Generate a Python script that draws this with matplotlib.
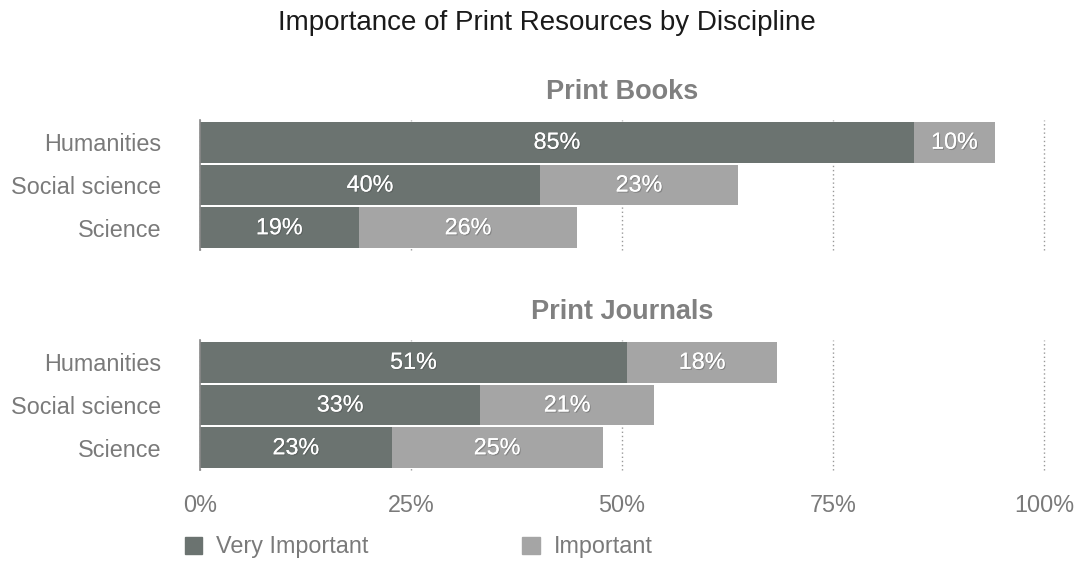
import matplotlib.pyplot as plt
import matplotlib.patheffects as pe
from matplotlib.patches import Patch

plt.rcParams['font.family'] = ['Liberation Sans', 'DejaVu Sans']

# Data
disciplines = ["Humanities", "Social science", "Science"]
books_very = [84.6, 40.3, 18.8]
books_imp = [9.6, 23.4, 25.9]
journals_very = [50.6, 33.2, 22.7]
journals_imp = [17.8, 20.6, 25.0]
panel_titles = ["Print Books", "Print Journals"]
xticks = [0, 25, 50, 75, 100]
xtick_labels = ["0%", "25%", "50%", "75%", "100%"]

dark = "#6b7370"
light = "#a5a5a5"
text_gray = "#7a7a7a"
fs = 16.8

fig = plt.figure(figsize=(10.77, 5.61), dpi=100)
ax_top = fig.add_axes([0.1857, 0.5544, 0.7837, 0.2317])
ax_bot = fig.add_axes([0.1857, 0.1622, 0.7837, 0.2317])

shadow = [pe.withSimplePatchShadow(offset=(0.8, -0.8), shadow_rgbFace="#444444", alpha=0.35), pe.Normal()]


def draw_panel(ax, very, imp, title, show_x):
    y = range(len(disciplines))
    ax.barh(y, very, height=0.95, color=dark, zorder=2)
    ax.barh(y, imp, left=very, height=0.95, color=light, zorder=2)
    for i in y:
        ax.text(very[i] / 2, i, f"{very[i]:.0f}%", ha="center", va="center",
                color="white", fontsize=fs, zorder=3, path_effects=shadow)
        ax.text(very[i] + imp[i] / 2, i, f"{imp[i]:.0f}%", ha="center", va="center",
                color="white", fontsize=fs, zorder=3, path_effects=shadow)
    ax.set_xlim(0, 100)
    ax.set_ylim(2.52, -0.52)
    ax.set_yticks(list(y))
    ax.set_yticklabels(disciplines, fontsize=fs, color=text_gray)
    ax.set_xticks(xticks)
    if show_x:
        ax.set_xticklabels(xtick_labels, fontsize=fs, color=text_gray)
    else:
        ax.set_xticklabels([])
    ax.tick_params(axis="y", length=0, pad=28)
    ax.tick_params(axis="x", length=0, pad=17)
    ax.grid(axis="x", linestyle=(0, (1, 2)), color="#999999", linewidth=1, zorder=0)
    for gl in ax.get_xgridlines():
        gl.set_clip_on(False)
    ax.set_axisbelow(True)
    for s in ["top", "right", "bottom"]:
        ax.spines[s].set_visible(False)
    ax.spines["left"].set_color("#888888")
    ax.spines["left"].set_linewidth(1.2)
    ax.set_title(title, fontsize=19.5, fontweight="bold", color="#808080", pad=15)


draw_panel(ax_top, books_very, books_imp, panel_titles[0], False)
draw_panel(ax_bot, journals_very, journals_imp, panel_titles[1], True)

fig.suptitle("Importance of Print Resources by Discipline", fontsize=20, color="#1a1a1a",
             x=0.508, y=0.959, va="center")

handles = [Patch(color=dark, label="Very Important"), Patch(color=light, label="Important")]
fig.legend(handles=handles, loc="center left", bbox_to_anchor=(0.1605, 0.025), ncol=2,
           frameon=False, fontsize=fs, labelcolor=text_gray, handlelength=0.75,
           handleheight=0.75, handletextpad=0.6, columnspacing=6.6, borderpad=0)

fig.savefig("out.png", dpi=100)
